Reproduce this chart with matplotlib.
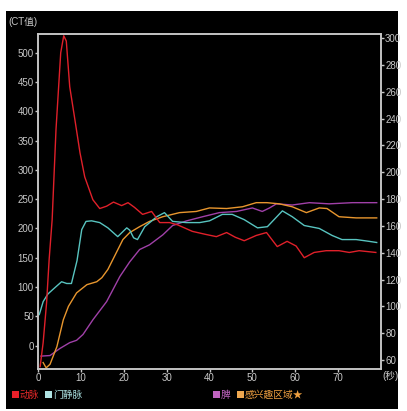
import matplotlib
matplotlib.use("Agg")
import matplotlib.pyplot as plt
from matplotlib.patches import Rectangle

plt.rcParams['font.family'] = ['Liberation Sans', 'Noto Sans CJK SC', 'DejaVu Sans']

# time (s) and CT values
artery_t = [0.5, 1.2, 2.0, 2.6, 3.3, 4.2, 5.3, 6.0, 6.6, 7.4, 8.6, 9.8, 10.9, 12.8, 14.4,
            16.0, 17.6, 19.5, 21.0, 22.5, 24.4, 26.5, 28.4, 30.7, 32.6, 36.0, 39.0, 41.6,
            44.0, 46.0, 48.1, 50.9, 53.3, 55.8, 58.1, 60.2, 62.1, 64.4, 67.2, 70.2, 72.6,
            74.9, 78.8]
artery_v = [-36, 5, 73, 147, 215, 369, 500, 529, 520, 442, 386, 329, 288, 249, 234,
            238, 245, 239, 244, 236, 224, 229, 210, 210, 206, 195, 190, 186,
            193, 185, 179, 188, 193, 169, 178, 170, 150, 159, 162, 162, 159,
            162, 159]

portal_t = [0.3, 1.2, 2.3, 3.5, 5.5, 6.7, 7.8, 8.6, 9.1, 10.2, 11.2, 12.5, 14.4, 16.3,
            18.6, 20.7, 21.4, 22.3, 23.2, 24.9, 27.7, 29.5, 31.4, 34.6, 37.7, 40.0, 43.0,
            45.3, 48.1, 51.2, 53.5, 57.0, 59.3, 62.1, 65.6, 68.6, 70.9, 74.2, 77.2, 79.0]
portal_v = [53, 75, 88, 96, 109, 106, 106, 130, 145, 198, 212, 213, 210, 201,
            186, 201, 197, 184, 181, 203, 220, 227, 212, 210, 210, 213, 224,
            224, 215, 201, 203, 230, 220, 205, 200, 188, 181, 181, 178, 176]

spleen_t = [0.7, 2.8, 5.1, 7.4, 9.0, 10.5, 12.8, 16.0, 19.1, 21.4, 23.7, 26.0, 29.1, 31.4,
            34.7, 38.4, 42.3, 46.3, 50.0, 52.3, 54.0, 55.6, 59.3, 63.3, 67.9, 73.3, 79.0]
spleen_v = [-18, -17, -5, 5, 9, 19, 44, 75, 118, 143, 164, 172, 189, 205,
            213, 220, 227, 229, 235, 229, 235, 242, 240, 244, 242, 244, 244]

roi_t = [1.2, 1.9, 2.8, 4.4, 5.9, 7.1, 9.0, 11.4, 13.7, 14.9, 16.3, 19.8, 21.4, 23.7, 26.0,
         29.1, 33.0, 36.9, 40.0, 44.0, 47.7, 50.9, 53.4, 56.3, 59.3, 62.6, 65.6, 67.4,
         70.2, 74.2, 79.0]
roi_v = [-29, -38, -32, -2, 44, 67, 90, 104, 109, 116, 130, 181, 193, 203, 212,
         220, 227, 229, 235, 234, 237, 244, 244, 242, 237, 227, 235, 234,
         220, 218, 218]

x_ticks = [0, 10, 20, 30, 40, 50, 60, 70]
left_ticks = [0, 50, 100, 150, 200, 250, 300, 350, 400, 450, 500]
right_ticks = [60, 80, 100, 120, 140, 160, 180, 200, 220, 240, 260, 280, 300]

legend_items = [('动脉', '#e8202a', '#e02828', 12),
                ('门静脉', '#b0e4e4', '#a8dede', 45),
                ('脾', '#c064c0', '#c064c0', 213),
                ('感兴趣区域★', '#f0a850', '#f0a040', 237)]

W, H = 407, 411
fig = plt.figure(figsize=(W / 100, H / 100), dpi=100, facecolor='white')
fig.patches.append(Rectangle((6 / W, 1 - 409 / H), 392 / W, 398 / H,
                             transform=fig.transFigure, facecolor='black',
                             edgecolor='none', zorder=-10))

ax = fig.add_axes([38 / W, 1 - 369 / H, (381 - 38) / W, (369 - 34) / H])
ax.set_facecolor('black')
fg = '#c8c8c8'

ax.plot(spleen_t, spleen_v, color='#a040a8', lw=1)
ax.plot(roi_t, roi_v, color='#e8962e', lw=1)
ax.plot(portal_t, portal_v, color='#58c4c0', lw=1)
ax.plot(artery_t, artery_v, color='#e0202a', lw=1)

ax.set_xlim(0, 80)
ax.set_ylim(-40, 532)
ax.set_xticks(x_ticks)
ax.set_yticks(left_ticks)

ax2 = ax.twinx()
ax2.set_ylim(53.3, 303)
ax2.set_yticks(right_ticks)

for a in (ax, ax2):
    for s in a.spines.values():
        s.set_color(fg)
        s.set_linewidth(1.1)
    a.tick_params(colors=fg, labelcolor=fg, labelsize=7, length=2, width=1, pad=1)

fig.text(8 / W, 1 - 22 / H, '(CT值)', color=fg, fontsize=7, va='center', ha='left')
fig.text(382 / W, 1 - 376 / H, '(秒)', color=fg, fontsize=7, va='center', ha='left')

for label, sq, tc, x0 in legend_items:
    fig.patches.append(Rectangle((x0 / W, 1 - 398 / H), 7 / W, 7 / H,
                                 transform=fig.transFigure, facecolor=sq,
                                 edgecolor='none'))
    fig.text((x0 + 8) / W, 1 - 394.5 / H, label, color=tc, fontsize=7,
             va='center', ha='left')

fig.savefig('out.png', dpi=100, facecolor='white')
